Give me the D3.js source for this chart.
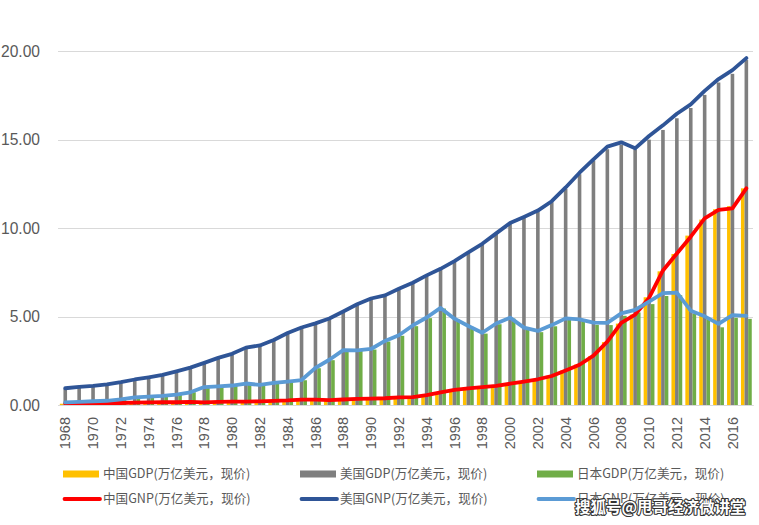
<!DOCTYPE html>
<html><head><meta charset="utf-8">
<script src="https://cdn.jsdelivr.net/npm/d3@7"></script>
<style>body{margin:0;background:#fff}svg{display:block}</style>
</head><body><svg id="c" width="759" height="525"></svg>
<script>
const years = ["1968","1969","1970","1971","1972","1973","1974","1975","1976","1977",
  "1978","1979","1980","1981","1982","1983","1984","1985","1986","1987",
  "1988","1989","1990","1991","1992","1993","1994","1995","1996","1997",
  "1998","1999","2000","2001","2002","2003","2004","2005","2006","2007",
  "2008","2009","2010","2011","2012","2013","2014","2015","2016","2017"];
const yTicks = [0, 5, 10, 15, 20];

const chinaGDP = [0.070,0.079,0.093,0.100,0.114,0.139,0.144,0.163,0.154,0.175,
  0.150,0.178,0.191,0.196,0.205,0.231,0.260,0.309,0.301,0.273,
  0.313,0.348,0.361,0.383,0.427,0.445,0.564,0.734,0.864,0.962,
  1.029,1.094,1.211,1.339,1.471,1.660,1.955,2.286,2.752,3.552,
  4.598,5.110,6.087,7.552,8.532,9.570,10.476,11.062,11.233,12.240];
const usGDP = [0.94,1.02,1.07,1.16,1.28,1.43,1.55,1.69,1.88,2.09,
  2.36,2.63,2.86,3.21,3.34,3.64,4.04,4.35,4.59,4.87,
  5.25,5.66,5.98,6.17,6.54,6.88,7.31,7.66,8.10,8.61,
  9.09,9.66,10.25,10.58,10.94,11.46,12.21,13.04,13.81,14.45,
  14.71,14.45,14.99,15.54,16.20,16.78,17.52,18.22,18.71,19.49];
const japanGDP = [0.147,0.172,0.212,0.240,0.318,0.432,0.479,0.521,0.586,0.721,
  1.013,1.055,1.105,1.218,1.134,1.243,1.318,1.399,2.079,2.532,
  3.072,3.054,3.133,3.584,3.909,4.454,4.907,5.449,4.834,4.414,
  4.033,4.563,4.888,4.304,4.115,4.446,4.815,4.755,4.530,4.515,
  5.038,5.231,5.700,6.157,6.203,5.156,4.850,4.389,4.927,4.867];
const chinaGNP = [0.070,0.079,0.093,0.100,0.114,0.139,0.144,0.163,0.154,0.175,
  0.150,0.178,0.191,0.196,0.206,0.232,0.261,0.309,0.299,0.271,
  0.311,0.345,0.358,0.381,0.427,0.443,0.555,0.719,0.849,0.945,
  1.011,1.077,1.201,1.324,1.454,1.638,1.954,2.272,2.790,3.578,
  4.640,5.110,6.050,7.600,8.560,9.510,10.540,11.020,11.110,12.240];
const usGNP = [0.946,1.025,1.078,1.168,1.290,1.441,1.563,1.702,1.900,2.113,
  2.381,2.661,2.892,3.242,3.367,3.673,4.068,4.380,4.612,4.891,
  5.281,5.691,6.016,6.195,6.565,6.909,7.324,7.694,8.130,8.627,
  9.107,9.697,10.277,10.627,10.983,11.514,12.292,13.123,13.880,14.597,
  14.840,14.500,15.199,15.800,16.453,16.981,17.748,18.416,18.918,19.600];
const japanGNP = [0.147,0.171,0.211,0.239,0.317,0.431,0.476,0.519,0.584,0.719,
  1.013,1.056,1.101,1.214,1.135,1.248,1.325,1.410,2.095,2.556,
  3.103,3.090,3.165,3.618,3.944,4.495,4.944,5.487,4.877,4.463,
  4.082,4.606,4.935,4.370,4.183,4.514,4.895,4.840,4.652,4.642,
  5.180,5.378,5.845,6.315,6.350,5.330,5.010,4.580,5.080,5.030];

const barSeries = [
  {name: "中国GDP(万亿美元，现价)", values: chinaGDP, color: "#FFC000"},
  {name: "美国GDP(万亿美元，现价)", values: usGDP, color: "#7F7F7F"},
  {name: "日本GDP(万亿美元，现价)", values: japanGDP, color: "#70AD47"}
];
const lineSeries = [
  {name: "中国GNP(万亿美元，现价)", values: chinaGNP, color: "#FF0000"},
  {name: "美国GNP(万亿美元，现价)", values: usGNP, color: "#2F5597"},
  {name: "日本GNP(万亿美元，现价)", values: japanGNP, color: "#5B9BD5"}
];

const svg = d3.select("#c");
svg.append("rect").attr("width", 759).attr("height", 525).attr("fill", "#fff");

const x = d3.scaleBand().domain(years).range([58.3, 753.3]).padding(0);
const y = d3.scaleLinear().domain([0, 20]).range([405, 51]);
const bw = x.bandwidth();
const xs = d3.scaleBand().domain(barSeries.map(d => d.name)).range([1.55, bw - 1.55]).padding(0);
const txt = "#595959";

// gridlines
svg.append("g").selectAll("line").data(yTicks).join("line")
  .attr("x1", 58).attr("x2", 753)
  .attr("y1", d => Math.round(y(d)) + 0.5).attr("y2", d => Math.round(y(d)) + 0.5)
  .attr("stroke", "#D9D9D9").attr("stroke-width", 1);

// y axis labels
const ya = svg.append("g").attr("transform", "translate(40,0)")
  .call(d3.axisLeft(y).tickValues(yTicks).tickFormat(d3.format(".2f")).tickSize(0).tickPadding(0));
ya.select(".domain").remove();
ya.selectAll("text").attr("fill", txt).attr("font-size", "15.6px")
  .attr("font-family", "'Liberation Sans', Arial, sans-serif");

// bars
const bars = svg.append("g");
barSeries.forEach(s => {
  bars.append("g").selectAll("rect").data(s.values).join("rect")
    .attr("x", (d, i) => x(years[i]) + xs(s.name))
    .attr("width", xs.bandwidth())
    .attr("y", d => y(d))
    .attr("height", d => y(0) - y(d))
    .attr("fill", s.color);
});

// lines
const line = d3.line().x((d, i) => x(years[i]) + bw / 2).y(d => y(d));
lineSeries.forEach(s => {
  svg.append("path").datum(s.values).attr("d", line)
    .attr("fill", "none").attr("stroke", s.color).attr("stroke-width", 3.8)
    .attr("stroke-linejoin", "round").attr("stroke-linecap", "round");
});

// x axis
const xa = svg.append("g").attr("transform", "translate(0,405)")
  .call(d3.axisBottom(x).tickValues(years.filter((d, i) => i % 2 === 0)).tickSize(0).tickPadding(0));
xa.select(".domain").attr("stroke", "#D9D9D9");
xa.selectAll("text").attr("fill", txt).attr("font-size", "14.5px")
  .attr("font-family", "'Liberation Sans', Arial, sans-serif")
  .attr("text-anchor", "end").attr("dy", "0.35em")
  .attr("transform", "translate(0,12) rotate(-90)");

// legend
const legCols = [63, 300, 537];
const legRows = [474, 499];
const font = "'Noto Sans CJK SC', 'Noto Sans', sans-serif";
const leg = svg.append("g");
barSeries.forEach((s, i) => {
  const g = leg.append("g").attr("transform", `translate(${legCols[i]},${legRows[0]})`);
  g.append("rect").attr("x", 0).attr("y", -3.5).attr("width", 36).attr("height", 7).attr("fill", s.color);
  g.append("text").attr("x", 40).attr("y", 0).attr("dy", "0.35em").attr("fill", txt)
    .attr("font-size", "12.6px").attr("font-family", font).text(s.name);
});
lineSeries.forEach((s, i) => {
  const g = leg.append("g").attr("transform", `translate(${legCols[i]},${legRows[1]})`);
  g.append("line").attr("x1", 1.5).attr("x2", 37).attr("y1", 0).attr("y2", 0)
    .attr("stroke", s.color).attr("stroke-width", 3.8).attr("stroke-linecap", "round");
  g.append("text").attr("x", 40).attr("y", 0).attr("dy", "0.35em").attr("fill", txt)
    .attr("font-size", "12.6px").attr("font-family", font).text(s.name);
});

// watermark
svg.append("text").attr("x", 575).attr("y", 508).attr("dy", "0.35em")
  .attr("font-size", "15.5px").attr("font-weight", "bold").attr("font-family", font)
  .attr("fill", "#fff").attr("stroke", "#333").attr("stroke-width", 2.2)
  .attr("paint-order", "stroke").attr("stroke-linejoin", "round")
  .text("搜狐号@甩哥经济微讲堂");
</script></body></html>
